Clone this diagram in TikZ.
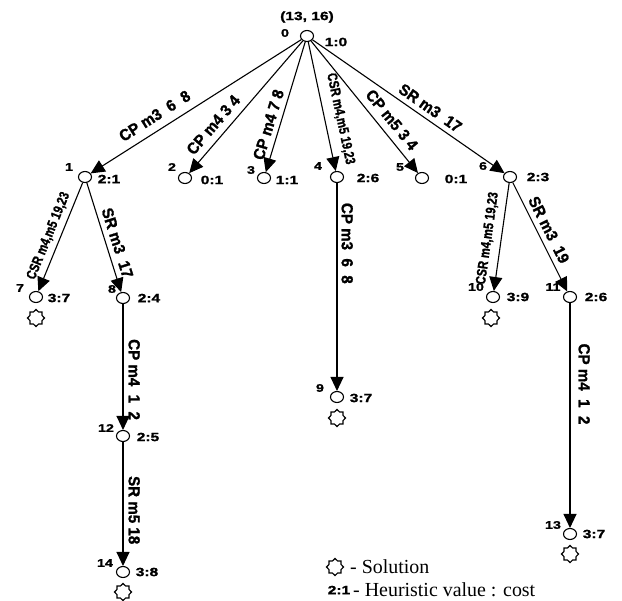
\documentclass[tikz,border=0pt]{standalone}
\usepackage{fontspec}
\setmainfont{Liberation Serif}
\newfontfamily\widefont[FakeStretch=1.3,FakeBold=1.5]{Liberation Sans Bold}
\newfontfamily\condfont[FakeStretch=0.95,FakeBold=1.4]{Liberation Sans Bold}
\newfontfamily\csrfont[FakeStretch=0.8,FakeBold=1.2]{Liberation Sans Bold}
\usetikzlibrary{arrows.meta,shapes.geometric}
\begin{document}
\begin{tikzpicture}[x=1bp,y=-1bp,
  st/.style={draw, ellipse, minimum width=13bp, minimum height=11bp, inner sep=0pt, line width=1.1bp},
  sol/.style={draw, star, star points=8, star point ratio=1.3, minimum size=17bp, inner sep=0pt, line width=1.1bp},
  ed/.style={line width=1.1bp, -{Triangle[length=14bp,width=13bp]}},
  el/.style={sloped, font=\condfont\fontsize{16}{16}\selectfont, inner sep=1bp},
  csr/.style={sloped, font=\csrfont\fontsize{14}{14}\selectfont, inner sep=1bp},
  num/.style={font=\widefont\fontsize{11}{11}\selectfont, inner sep=0pt},
  val/.style={font=\widefont\fontsize{12}{12}\selectfont, inner sep=0pt},
  leg/.style={font=\fontsize{20}{20}\selectfont, inner sep=0pt, anchor=west}]
\useasboundingbox (0,0) rectangle (622,601);
% state nodes
\node[st] (n0) at (307,36) {};
\node[st] (n1) at (85,177) {};
\node[st] (n2) at (185,178) {};
\node[st] (n3) at (264,178) {};
\node[st] (n4) at (337,177) {};
\node[st] (n5) at (422,178) {};
\node[st] (n6) at (510,177) {};
\node[st] (n7) at (36,297) {};
\node[st] (n8) at (123,298) {};
\node[st] (n9) at (337,397) {};
\node[st] (n10) at (493,297) {};
\node[st] (n11) at (570,297) {};
\node[st] (n12) at (123,436) {};
\node[st] (n13) at (570,534) {};
\node[st] (n14) at (123,572) {};
% solution stars
\node[sol] (s7) at (36,318) {};
\node[sol] (s9) at (337,418) {};
\node[sol] (s10) at (491,318) {};
\node[sol] (s13) at (570,554) {};
\node[sol] (s14) at (123,592) {};
% numbers
\node[num] (k0) at (285,33) {0};
\node[num] (k1) at (69,167) {1};
\node[num] (k2) at (172,167) {2};
\node[num] (k3) at (251,170) {3};
\node[num] (k4) at (318,166) {4};
\node[num] (k5) at (400,167) {5};
\node[num] (k6) at (483,166) {6};
\node[num] (k7) at (20,288) {7};
\node[num] (k8) at (112,289) {8};
\node[num] (k9) at (320,388) {9};
\node[num] (k10) at (476,287) {10};
\node[num] (k11) at (553,287) {11};
\node[num] (k12) at (106,428) {12};
\node[num] (k13) at (553,525) {13};
\node[num] (k14) at (105,563) {14};
% values
\node[val] (v0) at (336,42) {1:0};
\node[val] (r0) at (307,17) {(13, 16)};
\node[val] (v1) at (109,179) {2:1};
\node[val] (v2) at (212,180) {0:1};
\node[val] (v3) at (287,180) {1:1};
\node[val] (v4) at (368,178) {2:6};
\node[val] (v5) at (456,179) {0:1};
\node[val] (v6) at (538,177) {2:3};
\node[val] (v7) at (59,298) {3:7};
\node[val] (v8) at (149,298) {2:4};
\node[val] (v9) at (361,398) {3:7};
\node[val] (v10) at (518,297) {3:9};
\node[val] (v11) at (596,297) {2:6};
\node[val] (v12) at (148,437) {2:5};
\node[val] (v13) at (594,534) {3:7};
\node[val] (v14) at (147,572) {3:8};
% edges
\draw[ed] (n0) -- node[el, pos=0.66, above=7bp] {CP m3\ \ 6\ \ 8} (n1);
\draw[ed] (n0) -- node[el, pos=0.70, above=6bp] {CP m4 3 4} (n2);
\draw[ed] (n0) -- node[el, pos=0.66, above=4bp] {CP m4 7 8} (n3);
\draw[ed] (n0) -- node[csr, pos=0.62, above=8bp] {CSR m4,m5 19,23} (n4);
\draw[ed] (n0) -- node[el, pos=0.66, above=6bp] {CP m5 3 4} (n5);
\draw[ed] (n0) -- node[el, pos=0.58, above=4bp] {SR m3\ \ 17} (n6);
\draw[ed] (n1) -- node[csr, pos=0.53, above=4bp] {CSR m4,m5 19,23} (n7);
\draw[ed] (n1) -- node[el, pos=0.58, above=4bp] {SR m3\ \ 17} (n8);
\draw[ed] (n4) -- node[el, pos=0.29, above=3bp] {CP m3\ \ 6\ \ 8} (n9);
\draw[ed] (n6) -- node[csr, pos=0.53, above=6bp] {CSR m4,m5 19,23} (n10);
\draw[ed] (n6) -- node[el, pos=0.48, above=4bp] {SR m3\ \ 19} (n11);
\draw[ed] (n8) -- node[el, pos=0.6, above=4bp] {CP m4\ \ 1\ \ 2} (n12);
\draw[ed] (n12) -- node[el, pos=0.55, above=4bp] {SR m5 18} (n14);
\draw[ed] (n11) -- node[el, pos=0.36, above=7bp] {CP m4\ \ 1\ \ 2} (n13);
% legend
\node[sol] (ls) at (335,567) {};
\node[leg] (lt1) at (350,567) {- Solution};
\node[val] (lv) at (339,590) {2:1};
\node[leg] (lt2) at (353,590) {- Heuristic value : cost};
\end{tikzpicture}
\end{document}
